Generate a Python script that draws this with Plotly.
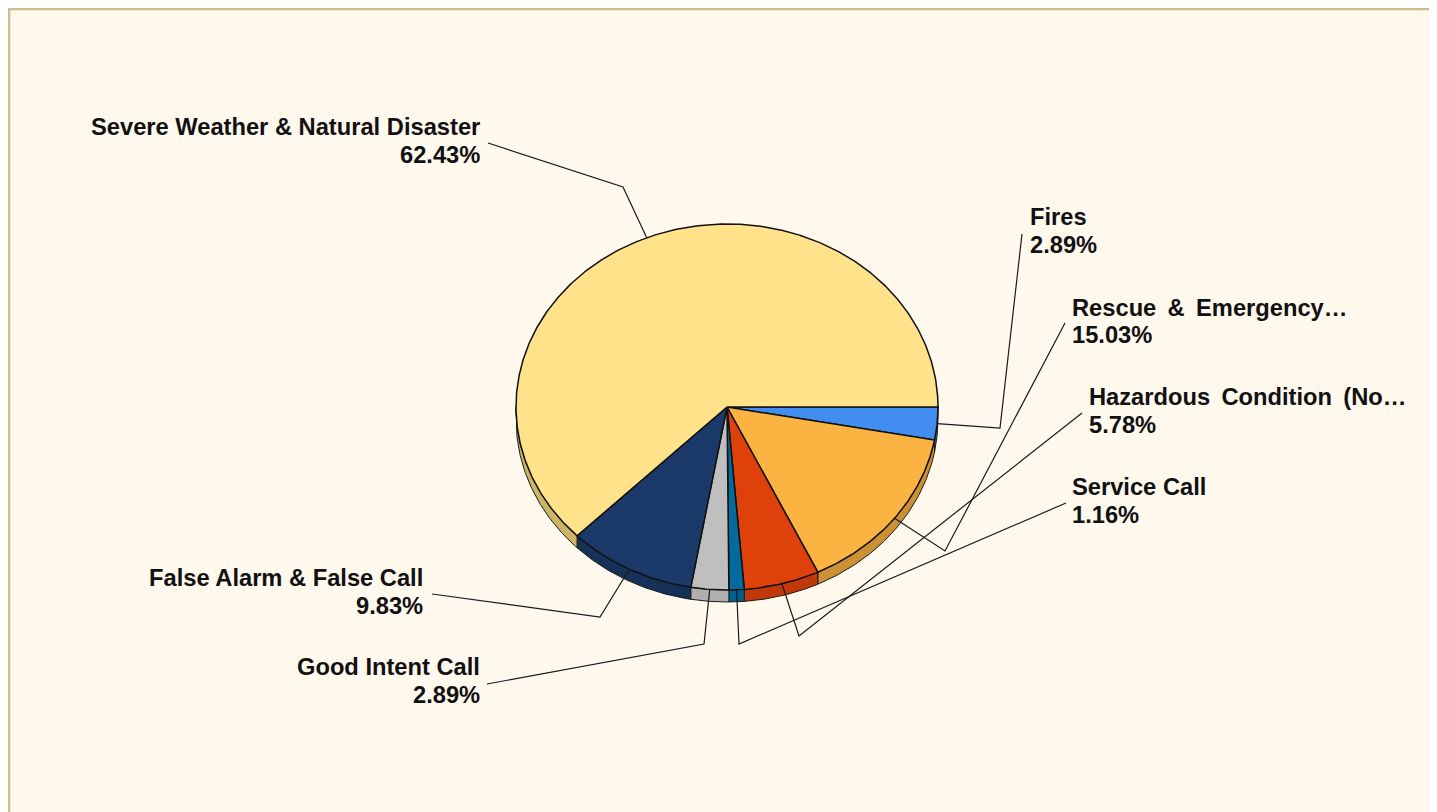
import numpy as np
import plotly.graph_objects as go

# ---- data (in drawing order, clockwise from 3 o'clock) ----
categories = [
    "Fires",
    "Rescue & Emergency…",
    "Hazardous Condition (No…",
    "Service Call",
    "Good Intent Call",
    "False Alarm & False Call",
    "Severe Weather & Natural Disaster",
]
values = [2.89, 15.03, 5.78, 1.16, 2.89, 9.83, 62.43]

# ---- styles ----
face_colors = ["#418EF0", "#FBB341", "#DF410A", "#046B9C", "#BFBFBF", "#1B3A69", "#FFE28A"]
side_colors = ["#2F6FC0", "#CC9135", "#C2380B", "#03608C", "#B0B0B0", "#163158", "#CDB567"]
justified = [False, True, True, False, False, False, False]

# page offset (browser body margin)
OFF = 8
CX, CY, RX, RY, DEPTH = 727, 407, 211, 183, 12

# label layout: (xanchor, x, y_name, y_pct, line_start, elbow)
label_layout = [
    ("left", 1028, 216.5, 245, (1022, 234), (1000, 428)),
    ("left", 1070, 307.5, 335, (1065, 323), (945, 551)),
    ("left", 1087, 397, 425, (1082, 413), (799, 636)),
    ("left", 1070, 486.5, 515, (1066, 503), (739, 644)),
    ("right", 482, 667, 694.5, (487, 684), (704, 644)),
    ("right", 425, 578, 606, (432, 594), (600, 617)),
    ("right", 482, 127, 155, (488, 143), (623, 187)),
]

total = sum(values)
bounds = np.concatenate([[0.0], np.cumsum(values)]) / total * 360.0


def arc(a, b, dy=0.0, n=None):
    if n is None:
        n = max(int(abs(b - a) * 2) + 2, 3)
    t = np.radians(np.linspace(a, b, n))
    return CX + RX * np.cos(t), CY + RY * np.sin(t) + dy


fig = go.Figure()

# side walls (front half only: 0..180 deg in screen space)
for i in range(len(values)):
    a, b = max(bounds[i], 0), min(bounds[i + 1], 180)
    if b <= a:
        continue
    xt, yt = arc(a, b)
    xb, yb = arc(b, a, DEPTH)
    xs = np.concatenate([xt, xb, xt[:1]])
    ys = np.concatenate([yt, yb, yt[:1]])
    fig.add_trace(go.Scatter(x=xs, y=ys, mode="lines", fill="toself",
                             fillcolor=side_colors[i],
                             line=dict(color="#1a1a1a", width=1),
                             hoverinfo="skip", showlegend=False))

# top faces
for i in range(len(values)):
    xa, ya = arc(bounds[i], bounds[i + 1])
    xs = np.concatenate([[CX], xa, [CX]])
    ys = np.concatenate([[CY], ya, [CY]])
    fig.add_trace(go.Scatter(x=xs, y=ys, mode="lines", fill="toself",
                             fillcolor=face_colors[i],
                             line=dict(color="#111111", width=1.5),
                             hoverinfo="skip", showlegend=False))

# leader lines and labels
annotations = []
for i, cat in enumerate(categories):
    xanchor, lx, yn, yp, start, elbow = label_layout[i]
    mid = (bounds[i] + bounds[i + 1]) / 2
    t = np.radians(mid)
    px, py = CX + RX * np.cos(t), CY + RY * np.sin(t)
    fig.add_trace(go.Scatter(x=[start[0], elbow[0], px], y=[start[1], elbow[1], py],
                             mode="lines", line=dict(color="#1a1a1a", width=1.2),
                             hoverinfo="skip", showlegend=False))
    name = cat.replace(" ", " \u2009") if justified[i] else cat
    for txt, yy in ((name, yn), (f"{values[i]:.2f}%", yp)):
        annotations.append(dict(x=lx, y=yy, xref="x", yref="y", text=txt,
                                showarrow=False, xanchor=xanchor, yanchor="middle",
                                font=dict(family="Liberation Sans, Arial, sans-serif",
                                          size=23.7, color="#111111", weight="bold")))

fig.update_layout(
    width=1437, height=812,
    margin=dict(l=0, r=0, t=0, b=0),
    paper_bgcolor="#FEF8ED", plot_bgcolor="#FEF8ED",
    xaxis=dict(range=[OFF, 1437 + OFF], visible=False, fixedrange=True),
    yaxis=dict(range=[812 + OFF, OFF], visible=False, fixedrange=True),
    annotations=annotations,
    shapes=[dict(type="rect", xref="x", yref="y", x0=OFF + 1, y0=OFF + 1, x1=1470, y1=840,
                 fillcolor="#FEF8ED", line=dict(color="#D4B88E", width=2.5), layer="below")],
    showlegend=False,
)

fig.write_html("out.html")
